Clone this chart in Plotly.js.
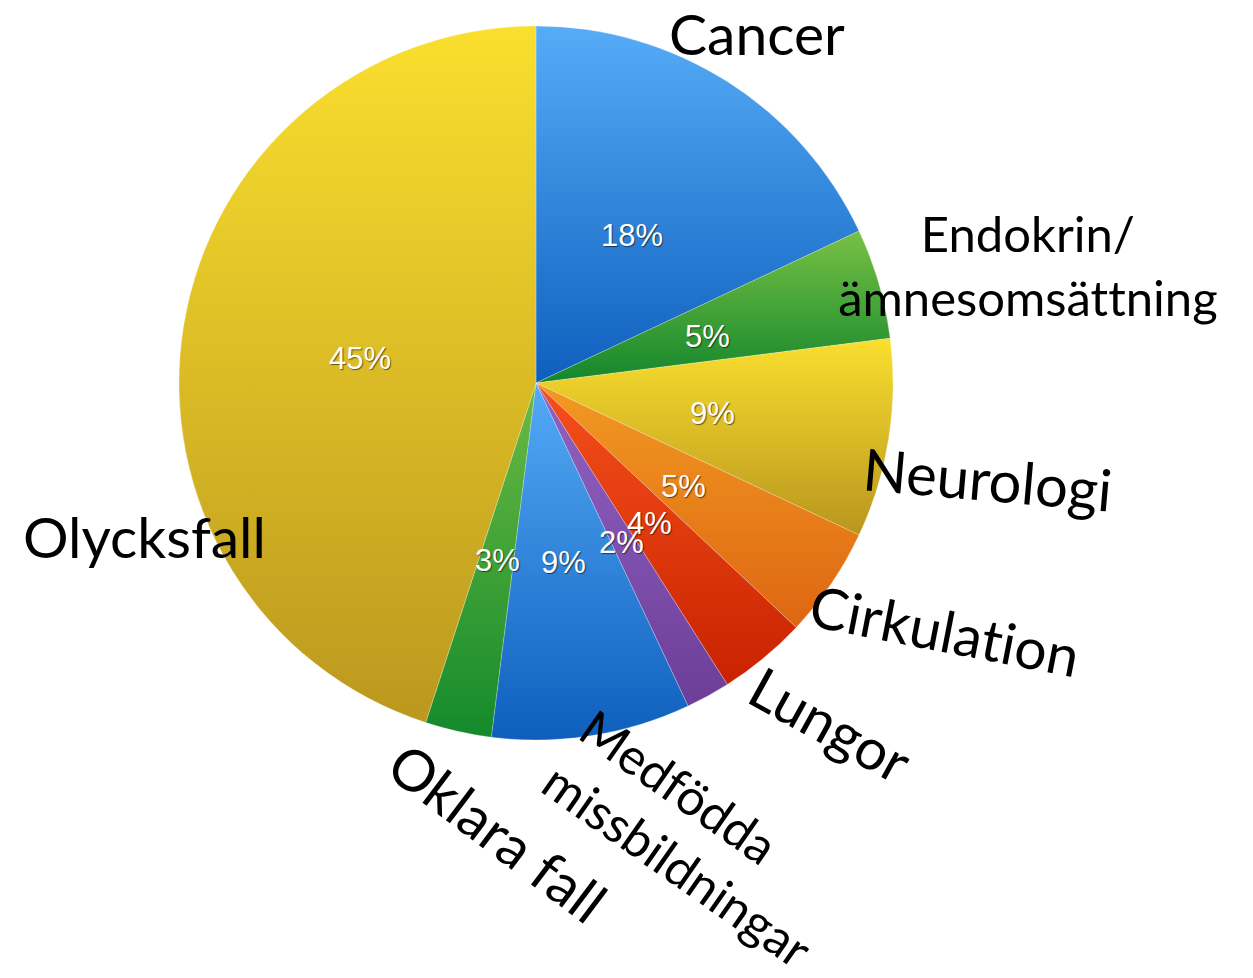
<!DOCTYPE html>
<html>
<head>
<meta charset="utf-8">
<script src="https://cdn.plot.ly/plotly-3.0.1.min.js"></script>
<style>html,body{margin:0;padding:0;background:#fff;}#chart{width:1253px;height:978px;}
#chart text{font-variant-ligatures:none;font-feature-settings:"liga" 0,"clig" 0;}</style>
</head>
<body>
<div id="chart"></div>
<script>
// ---- data ----
const categories = ["Cancer", "Endokrin/ämnesomsättning", "Neurologi", "Cirkulation", "Lungor",
                    "Medfödda missbildningar (del)", "Medfödda missbildningar", "Oklara fall", "Olycksfall"];
const values = [18, 5, 9, 5, 4, 2, 9, 3, 45];
const percentLabels = ["18%", "5%", "9%", "5%", "4%", "2%", "9%", "3%", "45%"];
const midColors = ["#3388e0", "#45a33a", "#dcc025", "#e88018", "#e43a10", "#7e4ea8", "#2f82da", "#40a036", "#dcbe25"];
const topColors = ["#56acf7", "#78c144", "#fadf2e", "#f29a22", "#f6501c", "#9262c2", "#54aaf6", "#6cba42", "#fadf2e"];
const botColors = ["#0e5fbd", "#13862c", "#b8961e", "#de6612", "#c82200", "#6c3e98", "#0e5fbd", "#148a2c", "#bb981e"];

// outside labels
const outerText = ["Cancer", "Endokrin/<br>ämnesomsättning", "Neurologi", "Cirkulation", "Lungor",
                   "Medfödda<br>missbildningar", "Oklara fall", "Olycksfall"];

const W = 1253, H = 978;
const cx = 536, cy = 383, R = 357;
const domX = [(cx - R) / W, (cx + R) / W];
const domY = [(H - cy - R) / H, (H - cy + R) / H];

const trace = {
  type: "pie",
  labels: categories,
  values: values,
  sort: false,
  direction: "clockwise",
  rotation: 0,
  textinfo: "none",
  hoverinfo: "none",
  marker: {colors: midColors, line: {color: "rgba(255,255,255,0.4)", width: 0.6}},
  domain: {x: domX, y: domY},
  showlegend: false
};

// percent annotations positioned from the values (mid-angle at half radius)
const total = values.reduce((a, b) => a + b, 0);
const annotations = [];
let cum = 0;
values.forEach((v, i) => {
  const mid = (cum + v / 2) / total * 2 * Math.PI;
  cum += v;
  const px = cx + 0.5 * R * Math.sin(mid);
  const py = cy - 0.5 * R * Math.cos(mid);
  annotations.push({
    xref: "paper", yref: "paper", x: px / W, y: 1 - py / H,
    xanchor: "center", yanchor: "middle", showarrow: false, yshift: -3,
    text: percentLabels[i],
    font: {family: "Liberation Sans, Arial, sans-serif", size: 31, color: "#ffffff",
           shadow: "1px 1px 1px rgba(0,0,0,0.55)"}
  });
});

const outerPos = [
  {x: 757, y: 33, a: 0, s: 57, al: "center"},
  {x: 1028, y: 265, a: 0, s: 49, al: "center"},
  {x: 988, y: 478, a: 5, s: 58, al: "center"},
  {x: 945, y: 630, a: 11, s: 57, al: "center"},
  {x: 831, y: 724, a: 29, s: 57, al: "center"},
  {x: 697, y: 838, a: 35, s: 50, al: "left"},
  {x: 498, y: 832, a: 37, s: 57, al: "center"},
  {x: 144, y: 536, a: 0, s: 57, al: "center"}
];
outerText.forEach((t, i) => {
  const p = outerPos[i];
  annotations.push({
    xref: "paper", yref: "paper", x: p.x / W, y: 1 - p.y / H,
    xanchor: "center", yanchor: "middle", showarrow: false,
    text: t, textangle: p.a, align: p.al,
    font: {family: "Lato, 'Open Sans', sans-serif", size: p.s, color: "#000000"}
  });
});

const layout = {
  width: W, height: H,
  margin: {l: 0, r: 0, t: 0, b: 0},
  paper_bgcolor: "#ffffff",
  plot_bgcolor: "#ffffff",
  annotations: annotations,
  showlegend: false
};

Plotly.newPlot("chart", [trace], layout, {staticPlot: true, displayModeBar: false}).then(gd => {
  const svg = gd.querySelector(".main-svg");
  let defs = svg.querySelector("defs");
  const NS = "http://www.w3.org/2000/svg";
  if (!defs) { defs = document.createElementNS(NS, "defs"); svg.insertBefore(defs, svg.firstChild); }
  const paths = gd.querySelectorAll("g.slice path.surface");
  paths.forEach((p, i) => {
    const g = document.createElementNS(NS, "linearGradient");
    g.setAttribute("id", "sliceGrad" + i);
    g.setAttribute("x1", "0"); g.setAttribute("y1", "0");
    g.setAttribute("x2", "0"); g.setAttribute("y2", "1");
    const s1 = document.createElementNS(NS, "stop");
    s1.setAttribute("offset", "0"); s1.setAttribute("stop-color", topColors[i]);
    const s2 = document.createElementNS(NS, "stop");
    s2.setAttribute("offset", "1"); s2.setAttribute("stop-color", botColors[i]);
    g.appendChild(s1); g.appendChild(s2);
    defs.appendChild(g);
    p.style.fill = "url(#sliceGrad" + i + ")";
  });
  gd.querySelectorAll("text").forEach(t => { t.style.fontVariantLigatures = "none"; });
});
</script>
</body>
</html>
